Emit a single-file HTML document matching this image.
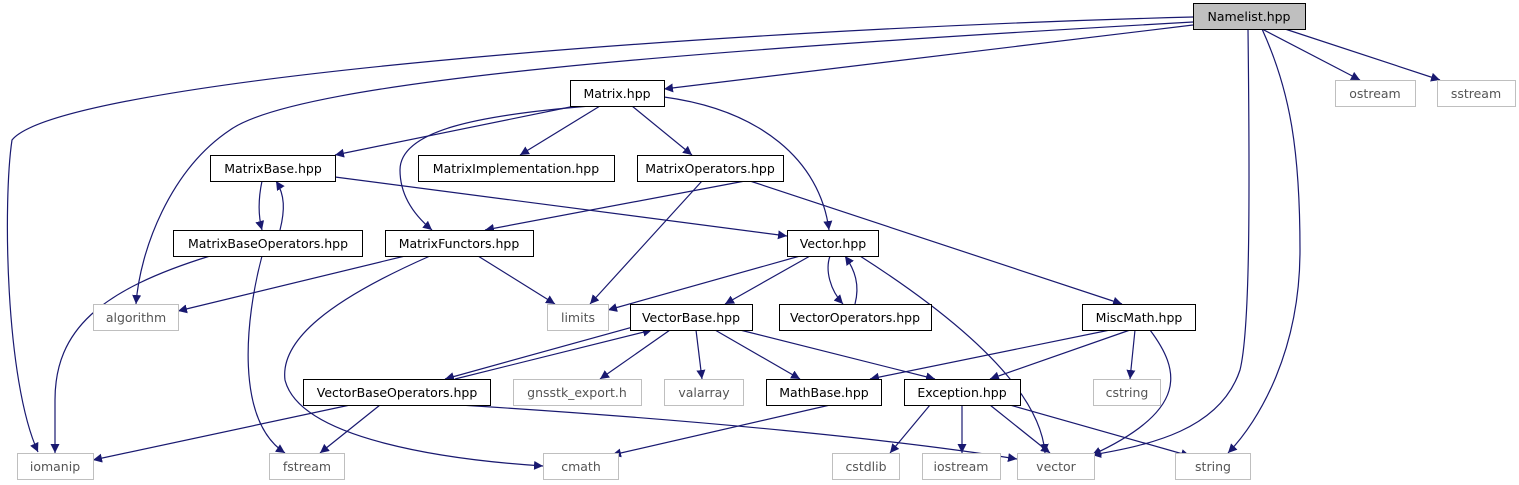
<!DOCTYPE html>
<html><head><meta charset="utf-8"><style>
html,body{margin:0;padding:0;background:#fff;}
svg{display:block;}
text{font-family:"DejaVu Sans","Liberation Sans",sans-serif;font-size:12.5px;fill:#000;}
.g text{fill:#555;}
</style></head><body>
<svg width="1519" height="485" viewBox="0 0 1519 485" xmlns="http://www.w3.org/2000/svg">
<defs><marker id="a" viewBox="0 0 10 10" refX="10" refY="5" markerWidth="9" markerHeight="9" markerUnits="userSpaceOnUse" orient="auto"><path d="M0,0 L10,5 L0,10 z" fill="#191970"/></marker></defs>
<g fill="none" stroke="#191970" stroke-width="1.2" marker-end="url(#a)">
<path d="M1193,17 C700,30 60,80 12,140 C3,200 5,380 38,452"/>
<path d="M1193,22 C700,50 300,80 230,130 C170,170 140,250 136,304"/>
<path d="M1193,25 L664,89"/>
<path d="M1262,29 L1360,80"/>
<path d="M1285,29 L1440,80"/>
<path d="M1248,29 C1250,200 1250,330 1240,370 C1220,430 1150,445 1092,455"/>
<path d="M1262,29 C1290,90 1300,150 1300,250 C1300,350 1260,420 1228,453"/>
<path d="M575,106 L335,155"/>
<path d="M600,106 L520,155"/>
<path d="M632,106 L692,155"/>
<path d="M664,97 C760,110 820,160 829,230"/>
<path d="M590,106 C480,115 400,130 400,170 C400,200 420,220 432,230"/>
<path d="M262,181 C258,200 258,215 262,230"/>
<path d="M280,230 C285,210 285,195 276,181"/>
<path d="M335,177 L787,236"/>
<path d="M745,181 L485,230"/>
<path d="M702,181 L590,304"/>
<path d="M750,181 L1122,304"/>
<path d="M210,256 C100,290 55,330 55,400 L55,453"/>
<path d="M262,256 C245,320 235,420 285,453"/>
<path d="M405,256 L178,311"/>
<path d="M478,256 L555,304"/>
<path d="M430,256 C330,300 280,340 285,380 C300,440 450,460 543,466"/>
<path d="M800,256 L608,310"/>
<path d="M810,256 L725,304"/>
<path d="M830,256 C825,270 830,290 843,304"/>
<path d="M855,304 C860,285 855,270 845,256"/>
<path d="M860,256 C960,320 1040,390 1045,453"/>
<path d="M640,325 L445,379"/>
<path d="M455,379 L652,330"/>
<path d="M670,330 L600,379"/>
<path d="M696,330 L702,379"/>
<path d="M715,330 L800,379"/>
<path d="M740,330 L935,379"/>
<path d="M1110,330 L870,379"/>
<path d="M1130,330 L990,379"/>
<path d="M1135,330 L1130,379"/>
<path d="M1150,330 C1180,370 1190,410 1092,455"/>
<path d="M350,405 L93,460"/>
<path d="M380,405 L320,453"/>
<path d="M460,405 C700,420 900,440 1017,459"/>
<path d="M830,405 L612,455"/>
<path d="M930,405 L890,453"/>
<path d="M962,405 L962,453"/>
<path d="M990,405 L1050,453"/>
<path d="M1010,405 L1190,456"/>
</g>
<g stroke="#000" stroke-width="1" fill="#fff">
<rect x="1193.5" y="3.5" width="112" height="26" fill="#bfbfbf"/>
<rect x="570.5" y="80.5" width="94" height="26"/>
<rect x="210.5" y="155.5" width="125" height="26"/>
<rect x="418.5" y="155.5" width="196" height="26"/>
<rect x="637.5" y="155.5" width="146" height="26"/>
<rect x="173.5" y="230.5" width="189" height="26"/>
<rect x="385.5" y="230.5" width="148" height="26"/>
<rect x="787.5" y="230.5" width="91" height="26"/>
<rect x="630.5" y="304.5" width="122" height="26"/>
<rect x="779.5" y="304.5" width="152" height="26"/>
<rect x="1082.5" y="304.5" width="113" height="26"/>
<rect x="303.5" y="379.5" width="187" height="26"/>
<rect x="766.5" y="379.5" width="115" height="26"/>
<rect x="904.5" y="379.5" width="116" height="26"/>
</g>
<g stroke="#bfbfbf" stroke-width="1" fill="#fff">
<rect x="1335.5" y="80.5" width="80" height="26"/>
<rect x="1437.5" y="80.5" width="78" height="26"/>
<rect x="93.5" y="304.5" width="85" height="26"/>
<rect x="547.5" y="304.5" width="61" height="26"/>
<rect x="513.5" y="379.5" width="128" height="26"/>
<rect x="664.5" y="379.5" width="79" height="26"/>
<rect x="1093.5" y="379.5" width="67" height="26"/>
<rect x="17.5" y="453.5" width="76" height="26"/>
<rect x="269.5" y="453.5" width="75" height="26"/>
<rect x="543.5" y="453.5" width="75" height="26"/>
<rect x="832.5" y="453.5" width="67" height="26"/>
<rect x="922.5" y="453.5" width="78" height="26"/>
<rect x="1017.5" y="453.5" width="77" height="26"/>
<rect x="1175.5" y="453.5" width="75" height="26"/>
</g>
<g text-anchor="middle">
<text x="1249" y="21">Namelist.hpp</text>
<text x="617" y="98">Matrix.hpp</text>
<text x="273" y="173">MatrixBase.hpp</text>
<text x="516" y="173">MatrixImplementation.hpp</text>
<text x="710" y="173">MatrixOperators.hpp</text>
<text x="268" y="248">MatrixBaseOperators.hpp</text>
<text x="459" y="248">MatrixFunctors.hpp</text>
<text x="833" y="248">Vector.hpp</text>
<text x="691" y="322">VectorBase.hpp</text>
<text x="855" y="322">VectorOperators.hpp</text>
<text x="1139" y="322">MiscMath.hpp</text>
<text x="397" y="397">VectorBaseOperators.hpp</text>
<text x="824" y="397">MathBase.hpp</text>
<text x="962" y="397">Exception.hpp</text>
</g>
<g text-anchor="middle" class="g">
<text x="1375" y="98">ostream</text>
<text x="1476" y="98">sstream</text>
<text x="136" y="322">algorithm</text>
<text x="578" y="322">limits</text>
<text x="577" y="397">gnsstk_export.h</text>
<text x="704" y="397">valarray</text>
<text x="1127" y="397">cstring</text>
<text x="55" y="471">iomanip</text>
<text x="307" y="471">fstream</text>
<text x="581" y="471">cmath</text>
<text x="866" y="471">cstdlib</text>
<text x="961" y="471">iostream</text>
<text x="1056" y="471">vector</text>
<text x="1213" y="471">string</text>
</g>
</svg>
</body></html>
